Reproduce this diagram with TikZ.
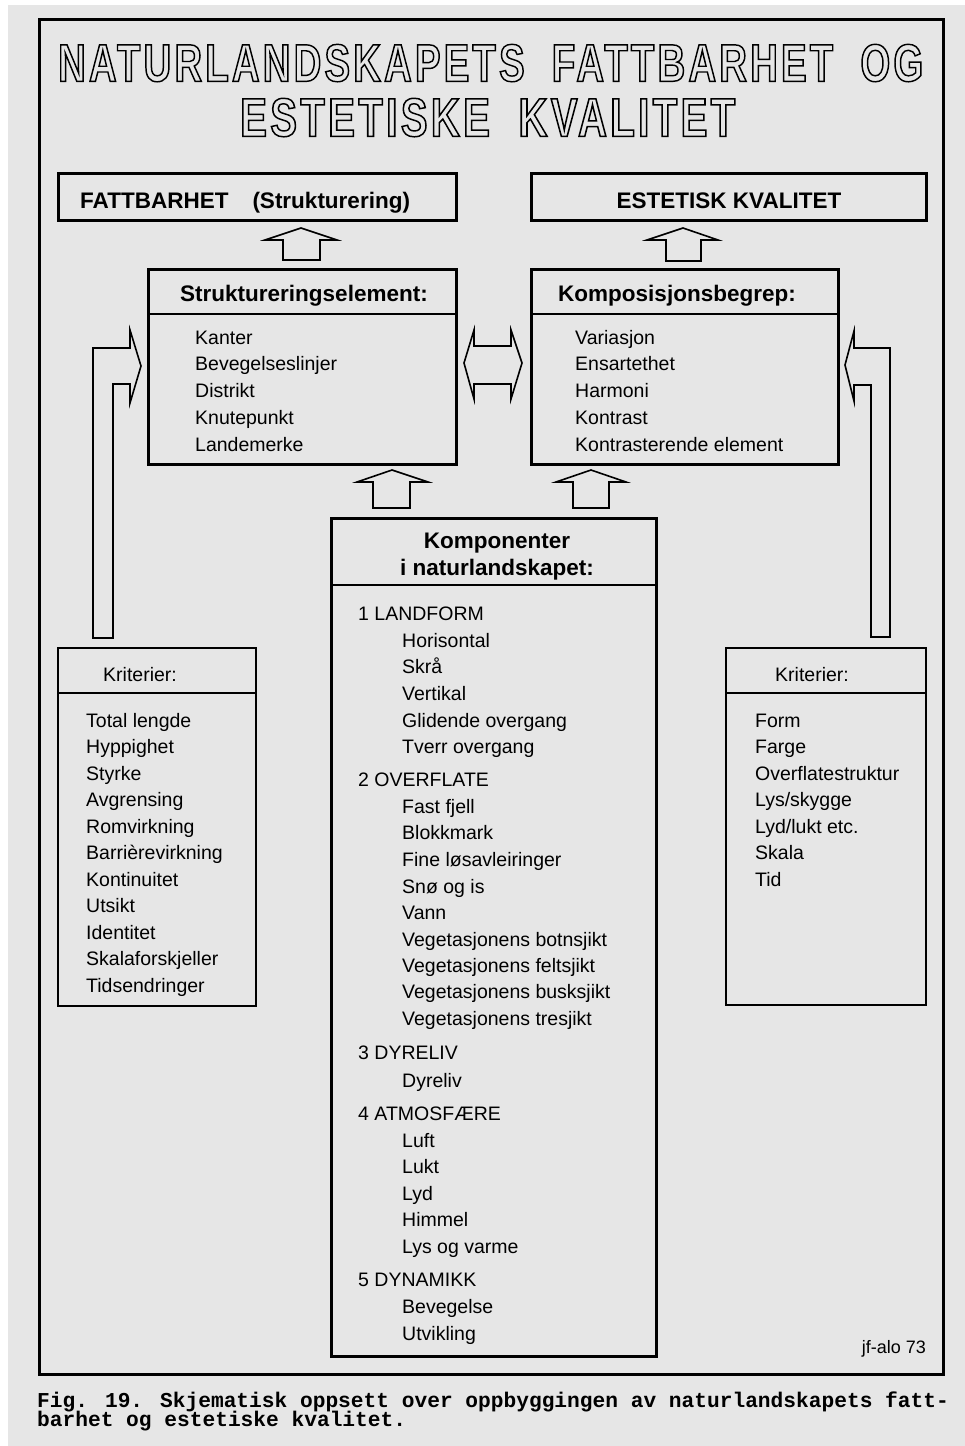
\documentclass[tikz,border=0pt]{standalone}
\usepackage{fontspec}
\usepackage{graphicx}
\setmainfont{Liberation Sans}
\newfontfamily\titlefont{Liberation Sans}[FakeStretch=0.7,LetterSpace=6]
\newfontfamily\capfont{Liberation Mono}
\definecolor{bggray}{RGB}{230,230,230}
\newcommand\outlinetext[1]{\special{pdf:literal direct 1 Tr 1.4 w}#1\special{pdf:literal direct 0 Tr}}
\begin{document}
\begin{tikzpicture}[x=1pt,y=-1pt,
  box/.style={draw, line width=2.6pt, inner sep=0pt, anchor=north west},
  smallbox/.style={draw, line width=2.4pt, inner sep=0pt, anchor=north west},
  divider/.style={line width=2pt},
  hdr/.style={font=\fontsize{22.5}{27}\selectfont\bfseries, inner sep=0pt, anchor=base},
  item/.style={font=\fontsize{19.5}{24}\selectfont, inner sep=0pt, anchor=base west},
  blockarrow/.style={draw, line width=1.6pt, line join=miter},
  capline/.style={font=\capfont\fontsize{21.2}{20}\selectfont\bfseries, inner sep=0pt, anchor=base west},
]
\useasboundingbox (0,0) rectangle (965,1446);
\fill[bggray] (0,0) rectangle (965,1446);
\fill[white] (0,0) rectangle (8,1446);
\fill[white] (0,0) rectangle (965,5);

% outer frame
\node[draw, line width=3pt, inner sep=0pt, anchor=north west, minimum width=904pt, minimum height=1355pt] (frame) at (38,18) {};

% title
\node[inner sep=0pt, anchor=south west] (title1) at (58,82)
  {\resizebox{865pt}{37pt}{\outlinetext{\titlefont\fontsize{52}{60}\selectfont\bfseries NATURLANDSKAPETS\hspace{26pt}FATTBARHET\hspace{26pt}OG}}};
\node[inner sep=0pt, anchor=south west] (title2) at (240,137)
  {\resizebox{495pt}{38pt}{\outlinetext{\titlefont\fontsize{52}{60}\selectfont\bfseries ESTETISKE\hspace{26pt}KVALITET}}};

% top boxes
\node[box, minimum width=398pt, minimum height=47pt] (fatt) at (57,172) {};
\node[hdr, anchor=base west] (fatttxt) at (80,208) {FATTBARHET\hspace{24pt}(Strukturering)};
\node[box, minimum width=395pt, minimum height=47pt] (estet) at (530,172) {};
\node[hdr] (estettxt) at (729,208) {ESTETISK KVALITET};

% Strukturering box
\node[box, minimum width=308pt, minimum height=195pt] (strukt) at (147,268) {};
\draw[divider] (147,314) -- (455,314);
\node[hdr] (strukthdr) at (304,301) {Struktureringselement:};
\foreach \t [count=\i] in {Kanter, Bevegelseslinjer, Distrikt, Knutepunkt, Landemerke}
  \node[item] (s\i) at (195,{344+26.75*(\i-1)}) {\t};

% Komposisjon box
\node[box, minimum width=307pt, minimum height=195pt] (kompo) at (530,268) {};
\draw[divider] (530,314) -- (837,314);
\node[hdr] (kompohdr) at (677,301) {Komposisjonsbegrep:};
\foreach \t [count=\i] in {Variasjon, Ensartethet, Harmoni, Kontrast, Kontrasterende element}
  \node[item] (k\i) at (575,{344+26.75*(\i-1)}) {\t};

% Komponenter box
\node[box, minimum width=325pt, minimum height=838pt] (komp) at (330,517) {};
\draw[divider] (330,585) -- (655,585);
\node[hdr] (komphdr1) at (497,548) {Komponenter};
\node[hdr] (komphdr2) at (497,575) {i naturlandskapet:};
\foreach \x/\y/\t [count=\i] in {
  358/620/1 LANDFORM, 402/647/Horisontal, 402/673/Skrå, 402/700/Vertikal,
  402/727/Glidende overgang, 402/753/Tverr overgang,
  358/786/2 OVERFLATE, 402/813/Fast fjell, 402/839/Blokkmark,
  402/866/Fine løsavleiringer, 402/893/Snø og is, 402/919/Vann,
  402/946/Vegetasjonens botnsjikt, 402/972/Vegetasjonens feltsjikt,
  402/998/Vegetasjonens busksjikt, 402/1025/Vegetasjonens tresjikt,
  358/1059/3 DYRELIV, 402/1087/Dyreliv,
  358/1120/4 ATMOSFÆRE, 402/1147/Luft, 402/1173/Lukt, 402/1200/Lyd,
  402/1226/Himmel, 402/1253/Lys og varme,
  358/1286/5 DYNAMIKK, 402/1313/Bevegelse, 402/1340/Utvikling}
  \node[item] (c\i) at (\x,\y) {\t};

% left Kriterier box
\node[smallbox, minimum width=198pt, minimum height=358pt] (kritL) at (57,647) {};
\draw[divider] (57,693) -- (255,693);
\node[item] (kritLhdr) at (103,681) {Kriterier:};
\foreach \t [count=\i] in {Total lengde, Hyppighet, Styrke, Avgrensing, Romvirkning,
  Barrièrevirkning, Kontinuitet, Utsikt, Identitet, Skalaforskjeller, Tidsendringer}
  \node[item] (l\i) at (86,{727+26.5*(\i-1)}) {\t};

% right Kriterier box
\node[smallbox, minimum width=200pt, minimum height=357pt] (kritR) at (725,647) {};
\draw[divider] (725,693) -- (925,693);
\node[item] (kritRhdr) at (775,681) {Kriterier:};
\foreach \t [count=\i] in {Form, Farge, Overflatestruktur, {Lys/skygge}, {Lyd/lukt etc.}, Skala, Tid}
  \node[item] (r\i) at (755,{727+26.5*(\i-1)}) {\t};

% up arrows
\draw[blockarrow] (283,260) -- (283,240) -- (265,240) -- (301,228) -- (337,240) -- (320,240) -- (320,260) -- cycle;
\draw[blockarrow] (666,261) -- (666,240) -- (647,240) -- (683,228) -- (718,240) -- (701,240) -- (701,261) -- cycle;
\draw[blockarrow] (373,508) -- (373,482) -- (357,482) -- (392,470) -- (428,482) -- (410,482) -- (410,508) -- cycle;
\draw[blockarrow] (573,508) -- (573,482) -- (556,482) -- (591,470) -- (626,482) -- (609,482) -- (609,508) -- cycle;

% double arrow
\draw[blockarrow] (464,363) -- (474,330) -- (474,346) -- (511,346) -- (511,330) -- (522,363)
  -- (511,399) -- (511,384) -- (474,384) -- (474,399) -- cycle;

% bent arrows
\draw[blockarrow] (93,638) -- (93,348) -- (130,348) -- (130,330) -- (141,366) -- (130,403)
  -- (130,384) -- (113,384) -- (113,638) -- cycle;
\draw[blockarrow] (871,637) -- (871,385) -- (854,385) -- (854,401) -- (845,365) -- (854,331)
  -- (854,348) -- (890,348) -- (890,637) -- cycle;

% signature
\node[font=\fontsize{18}{20}\selectfont, inner sep=0pt, anchor=base east] (sig) at (926,1353) {jf-alo 73};

% caption
\node[capline] (cap1) at (37,1407) {Fig. 19. Skjematisk oppsett over oppbyggingen av naturlandskapets fatt-};
\node[capline] (cap2) at (37,1426) {barhet og estetiske kvalitet.};
\end{tikzpicture}
\end{document}
